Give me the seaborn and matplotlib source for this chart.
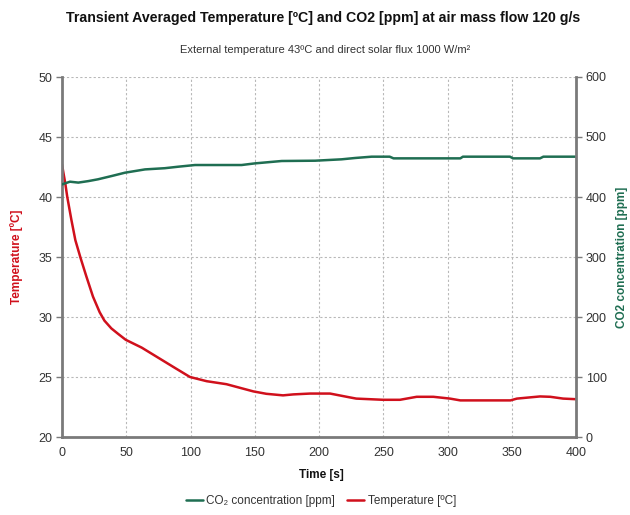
import matplotlib
matplotlib.use("Agg")
import matplotlib.pyplot as plt
import seaborn as sns
import pandas as pd

# Averaged cabin temperature [°C] over time [s]
temp_time = [0, 2.6, 4.1, 7.3, 10.4, 14.5, 18.9, 24.1, 29.3, 33, 38.4, 43.6, 49.6, 62, 75,
             88, 99.6, 112.6, 128, 148.9, 159, 172, 180, 193, 208.6, 224, 229, 250, 263, 276,
             289, 302, 310, 349, 354, 372, 380, 390, 400]
temp_vals = [42.7, 41.1, 40.0, 38.1, 36.4, 34.9, 33.4, 31.7, 30.4, 29.7, 29.05, 28.6, 28.1, 27.45, 26.6,
             25.75, 25.0, 24.65, 24.4, 23.8, 23.6, 23.47, 23.55, 23.62, 23.62, 23.3, 23.2, 23.1, 23.1, 23.35,
             23.35, 23.2, 23.05, 23.05, 23.2, 23.38, 23.35, 23.2, 23.15]

# Averaged CO2 concentration [ppm] over time [s]
co2_time = [0, 6.2, 12.7, 20.5, 28, 38.7, 49, 64.6, 80, 90.5, 103.5, 139.8, 150, 171,
            197, 217.6, 228, 241, 255, 258, 310, 312, 348.6, 351, 372, 374.6, 400]
co2_vals = [421, 425.5, 424, 426.5, 429.5, 435, 440.5, 446, 448, 450.5, 453.3, 453.3, 456, 460,
            460.5, 462.8, 465, 467.2, 467.2, 464.4, 464.4, 467.2, 467.2, 464.4, 464.4, 467.2, 467.2]

x_ticks = [0, 50, 100, 150, 200, 250, 300, 350, 400]
temp_ticks = [20, 25, 30, 35, 40, 45, 50]
co2_ticks = [0, 100, 200, 300, 400, 500, 600]

RED = "#d0101c"
GREEN = "#1f6e52"
GRAY_TXT = "#333333"
AXIS_GRAY = "#7a7a7a"

sns.set_theme(style="white")
plt.rcParams["font.family"] = ["Liberation Sans", "DejaVu Sans"]

fig = plt.figure(figsize=(6.3, 5.15), dpi=100)
ax = fig.add_axes([62 / 630, 1 - 437 / 515, (576 - 62) / 630, (437 - 77) / 515])
ax2 = ax.twinx()

temp_df = pd.DataFrame({"t": temp_time, "v": temp_vals})
co2_df = pd.DataFrame({"t": co2_time, "v": co2_vals})

sns.lineplot(data=temp_df, x="t", y="v", ax=ax, color=RED, linewidth=1.8,
             label="Temperature [ºC]", legend=False)
sns.lineplot(data=co2_df, x="t", y="v", ax=ax2, color=GREEN, linewidth=1.8,
             label="CO₂ concentration [ppm]", legend=False)

ax.set_xlim(0, 400)
ax.set_ylim(20, 50)
ax2.set_ylim(0, 600)
ax.set_xticks(x_ticks)
ax.set_yticks(temp_ticks)
ax2.set_yticks(co2_ticks)

ax.grid(True, color="#b8b8b8", linestyle=(0, (2, 2)), linewidth=0.8)
ax.set_axisbelow(True)

for a in (ax, ax2):
    for s in a.spines.values():
        s.set_visible(False)
    a.tick_params(labelsize=9, colors=GRAY_TXT, length=4, width=1, direction="out", pad=3)
    a.set_xlabel("")
    a.set_ylabel("")
for a, side in ((ax, "left"), (ax, "bottom"), (ax2, "right")):
    a.spines[side].set_visible(True)
    a.spines[side].set_color(AXIS_GRAY)
    a.spines[side].set_linewidth(2)
ax.tick_params(axis="both", colors=AXIS_GRAY, labelcolor=GRAY_TXT)
ax2.tick_params(axis="y", colors=AXIS_GRAY, labelcolor=GRAY_TXT, left=False, right=True)

fig.text(323 / 630, 1 - 18 / 515, "Transient Averaged Temperature [ºC] and CO2 [ppm] at air mass flow 120 g/s",
         ha="center", va="center", fontsize=10.2, fontweight="bold", color="#111111")
fig.text(325 / 630, 1 - 50 / 515, "External temperature 43ºC and direct solar flux 1000 W/m²",
         ha="center", va="center", fontsize=8, color=GRAY_TXT)
fig.text(17 / 630, 1 - 257 / 515, "Temperature [ºC]", rotation=90, ha="center", va="center",
         fontsize=8.5, fontweight="bold", color=RED)
fig.text(622 / 630, 1 - 257 / 515, "CO2 concentration [ppm]", rotation=90, ha="center", va="center",
         fontsize=8.5, fontweight="bold", color=GREEN)
fig.text(321 / 630, 1 - 475 / 515, "Time [s]", ha="center", va="center",
         fontsize=8.5, fontweight="bold", color="#111111")

handles = ax2.get_lines()[:1] + ax.get_lines()[:1]
labels = ["CO₂ concentration [ppm]", "Temperature [ºC]"]
fig.legend(handles, labels, loc="center", bbox_to_anchor=(321 / 630, 1 - 501 / 515), ncol=2,
           frameon=False, fontsize=8.5, handlelength=1.45, handletextpad=0.3, columnspacing=1.0,
           labelcolor=GRAY_TXT)

fig.savefig("out.png", dpi=100)
